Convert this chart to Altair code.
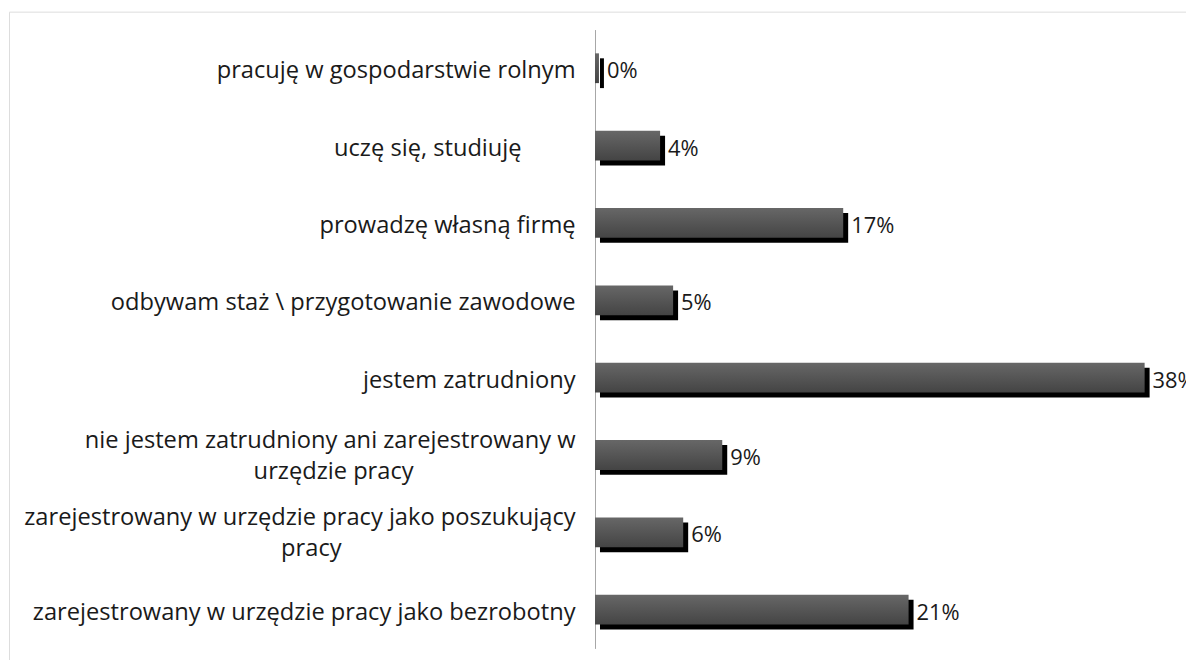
import altair as alt
import pandas as pd

PAD = "\u2800"  # blank glyph used to centre the wrapped second lines

categories = [
    "pracuję w gospodarstwie rolnym",
    "uczę się, studiuję" + PAD * 3,
    "prowadzę własną firmę",
    "odbywam staż \\ przygotowanie zawodowe",
    "jestem zatrudniony",
    "nie jestem zatrudniony ani zarejestrowany w|urzędzie pracy" + PAD * 9,
    "zarejestrowany w urzędzie pracy jako poszukujący|pracy" + PAD * 13,
    "zarejestrowany w urzędzie pracy jako bezrobotny",
]
values = [0.27, 4.45, 16.97, 5.34, 37.58, 8.70, 6.03, 21.44]

df = pd.DataFrame({"kategoria": categories, "wartosc": values})

FONT = "Open Sans"

y_enc = alt.Y(
    "kategoria:N",
    sort=categories,
    scale=alt.Scale(range=[18, 640], paddingInner=0.615, paddingOuter=0.3075),
    axis=alt.Axis(
        title=None,
        orient="left",
        offset=-589,
        ticks=False,
        grid=False,
        domainColor="#a6a6a6",
        domainWidth=1,
        labelFont=FONT,
        labelFontSize=23.8,
        labelColor="#1a1a1a",
        labelPadding=20,
        labelLimit=0,
        labelLineHeight=31,
        labelOffset={"condition": {"test": "indexof(datum.label, '|') >= 0", "value": -14}, "value": 3},
        labelExpr="split(datum.label, '|')",
        labelAlign="right",
        labelBaseline="middle",
    ),
)
x_enc = alt.X("wartosc:Q", scale=alt.Scale(domain=[0, 40], range=[589, 1177]), axis=None)

base = alt.Chart(df)

shadow = base.mark_bar(color="black", xOffset=5, x2Offset=5, yOffset=5).encode(x=x_enc, y=y_enc)

bars = base.mark_bar(
    color=alt.LinearGradient(
        gradient="linear",
        x1=0, x2=0, y1=0, y2=1,
        stops=[
            alt.GradientStop(offset=0, color="#676767"),
            alt.GradientStop(offset=1, color="#444444"),
        ],
    )
).encode(x=x_enc, y=y_enc)

labels = base.transform_calculate(
    txt="format(datum.wartosc, '.0f') + '%'"
).mark_text(
    align="left", baseline="middle", dx=8, dy=3, font=FONT, fontSize=22, color="#1a1a1a"
).encode(x=x_enc, y=y_enc, text="txt:N")

chart = alt.layer(shadow, bars, labels).properties(
    width=1190,
    height=660,
    autosize="none",
    padding={"left": 1, "top": 2, "right": -7, "bottom": -10},
).configure_view(
    stroke="#8c8c8c", strokeWidth=1, fill="white"
).configure(background="white")

chart.save("out.html", embed_options={"renderer": "svg", "actions": False})
